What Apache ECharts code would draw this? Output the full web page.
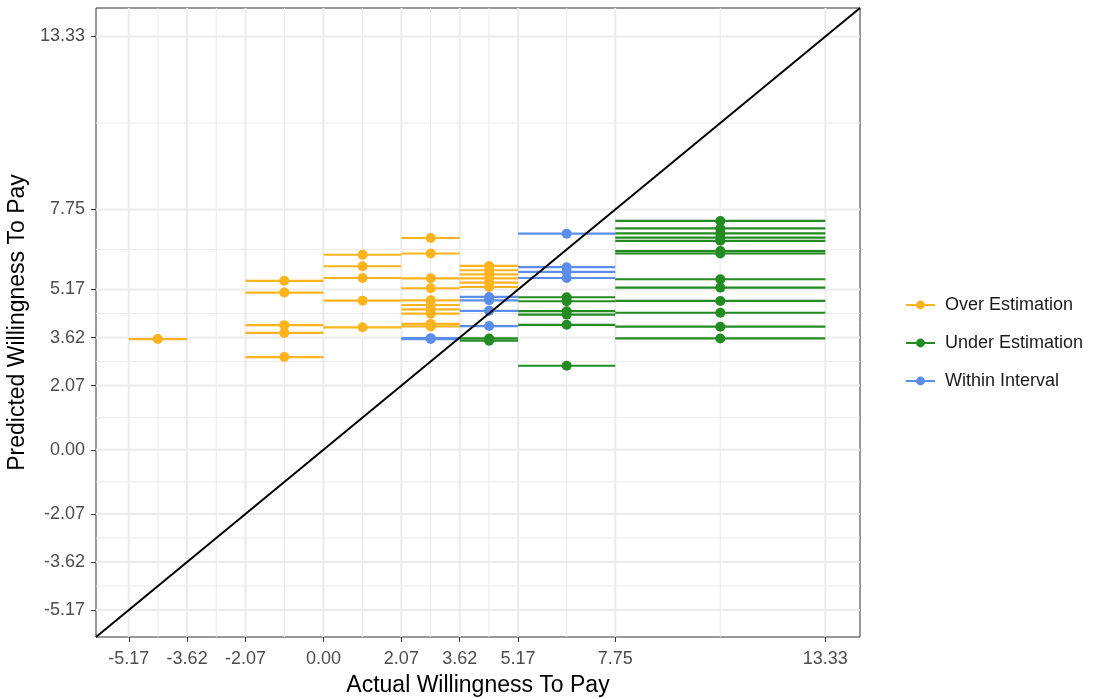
<!DOCTYPE html>
<html><head><meta charset="utf-8">
<script src="https://cdn.jsdelivr.net/npm/echarts@6/dist/echarts.min.js"></script>
<style>html,body{margin:0;padding:0;background:#fff}#c{width:1094px;height:699px}</style>
</head><body><div id="c"></div>
<script>
// Tick values / labels (same for both axes)
const tickValues = [-5.17, -3.62, -2.07, 0.00, 2.07, 3.62, 5.17, 7.75, 13.33];
const tickLabels = ['-5.17', '-3.62', '-2.07', '0.00', '2.07', '3.62', '5.17', '7.75', '13.33'];
const minorValues = [-4.395, -2.845, -1.035, 1.035, 2.845, 4.395, 6.46, 10.54];
const axisMin = -6.04, axisMax = 14.25;

// Actual-WTP interval groups
const groupLow  = [-5.17, -2.07, 0.00, 2.07, 3.62, 5.17, 7.75];
const groupHigh = [-3.62, 0.00, 2.07, 3.62, 5.17, 7.75, 13.33];
const groupX    = [-4.40, -1.04, 1.04, 2.85, 4.40, 6.46, 10.54];

// Predicted WTP per group, by category
const overY = [
  [3.57],
  [5.45, 5.07, 4.02, 3.77, 2.99],
  [6.29, 5.92, 5.54, 4.81, 3.95],
  [6.83, 6.33, 5.53, 5.21, 4.82, 4.67, 4.53, 4.39, 4.06, 3.98],
  [5.93, 5.79, 5.66, 5.53, 5.39, 5.25],
  [],
  []
];
const underY = [
  [], [], [], [],
  [3.59, 3.52],
  [4.92, 4.79, 4.47, 4.36, 4.03, 2.71],
  [7.38, 7.14, 6.98, 6.84, 6.74, 6.41, 6.33, 5.50, 5.23, 4.80, 4.42, 3.97, 3.59]
];
const withinY = [
  [], [], [],
  [3.60, 3.57],
  [4.93, 4.82, 4.48, 3.99],
  [6.97, 5.89, 5.74, 5.54],
  []
];

const categories = ['Over Estimation', 'Under Estimation', 'Within Interval'];
const colors = ['#FDB31E', '#228B22', '#5B8DEA'];
const catY = [overY, underY, withinY];

function bars(ys) {
  const out = [];
  ys.forEach((list, g) => list.forEach(y => out.push([groupLow[g], groupHigh[g], y])));
  return out;
}
function pts(ys) {
  const out = [];
  ys.forEach((list, g) => list.forEach(y => out.push([groupX[g], y])));
  return out;
}

const gridData = [];
tickValues.forEach(v => { gridData.push([v, 0, 0, 1]); gridData.push([0, v, 1, 1]); });
minorValues.forEach(v => { gridData.push([v, 0, 0, 0]); gridData.push([0, v, 1, 0]); });

const fmt = v => { const i = tickValues.findIndex(t => Math.abs(t - v) < 1e-6); return i >= 0 ? tickLabels[i] : v.toFixed(2); };

const series = [{
  type: 'custom', silent: true, z: 0,
  data: gridData,
  renderItem: (params, api) => {
    const cs = params.coordSys;
    const horiz = api.value(2) === 1;
    const major = api.value(3) === 1;
    const style = { stroke: '#EBEBEB', lineWidth: major ? 2 : 1 };
    if (!horiz) {
      const p = api.coord([api.value(0), 0]);
      return { type: 'line', shape: { x1: p[0], y1: cs.y, x2: p[0], y2: cs.y + cs.height }, style };
    } else {
      const p = api.coord([0, api.value(1)]);
      return { type: 'line', shape: { x1: cs.x, y1: p[1], x2: cs.x + cs.width, y2: p[1] }, style };
    }
  }
}];

categories.forEach((name, k) => {
  series.push({
    name, type: 'line', z: 3, data: pts(catY[k]),
    symbol: 'circle', symbolSize: 10, showSymbol: true,
    itemStyle: { color: colors[k] },
    lineStyle: { color: colors[k], width: 0, opacity: 0 },
    emphasis: { disabled: true }
  });
});
categories.forEach((name, k) => {
  series.push({
    name, type: 'custom', z: 2, data: bars(catY[k]),
    encode: { x: [0, 1], y: 2 },
    renderItem: (params, api) => {
      const a = api.coord([api.value(0), api.value(2)]);
      const b = api.coord([api.value(1), api.value(2)]);
      return { type: 'line', shape: { x1: a[0], y1: a[1], x2: b[0], y2: b[1] },
        style: { stroke: colors[k], lineWidth: 2.2 } };
    }
  });
});
series.push({
  type: 'line', z: 5, silent: true, showSymbol: false, symbol: 'none',
  data: [[axisMin, axisMin], [axisMax, axisMax]],
  lineStyle: { color: '#000', width: 2 }
});

const axisCommon = {
  type: 'value', min: axisMin, max: axisMax,
  splitLine: { show: false },
  axisLine: { show: false, onZero: false },
  axisTick: { show: true, customValues: tickValues, length: 5, lineStyle: { color: '#333', width: 1 } },
  axisLabel: { customValues: tickValues, formatter: fmt, color: '#4D4D4D', fontSize: 18, fontFamily: 'Liberation Sans, Arial, sans-serif', margin: 13 },
  nameLocation: 'middle',
  nameTextStyle: { color: '#000', fontSize: 23, fontFamily: 'Liberation Sans, Arial, sans-serif' }
};

const chart = echarts.init(document.getElementById('c'), null, { renderer: 'canvas' });
chart.setOption({
  animation: false,
  backgroundColor: '#fff',
  grid: { left: 96, right: 234, top: 8, bottom: 62, show: true, borderColor: '#333', borderWidth: 1, backgroundColor: 'transparent', containLabel: false, outerBoundsMode: 'none' },
  xAxis: Object.assign({}, axisCommon, { name: 'Actual Willingness To Pay', nameGap: 37 }),
  yAxis: Object.assign({}, axisCommon, { name: 'Predicted Willingness To Pay', nameGap: 64,
    axisLabel: Object.assign({}, axisCommon.axisLabel, { margin: 11 }) }),
  legend: {
    data: categories, orient: 'vertical', left: 900, top: 291,
    itemWidth: 29, itemHeight: 11, itemGap: 20,
    lineStyle: { width: 2, opacity: 1 },
    textStyle: { fontSize: 18, color: '#1A1A1A', fontFamily: 'Liberation Sans, Arial, sans-serif', padding: [0, 0, 0, 5] },
    selectedMode: false
  },
  series
});
</script></body></html>
